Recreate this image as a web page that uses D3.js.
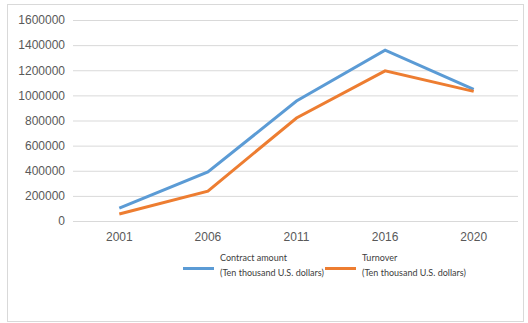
<!DOCTYPE html>
<html>
<head>
<meta charset="utf-8">
<script src="https://cdn.jsdelivr.net/npm/d3@7"></script>
<style>
  body { margin: 0; background: #fff; }
  svg { display: block; font-family: "Open Sans", sans-serif; }
</style>
</head>
<body>
<svg id="chart" width="528" height="323"></svg>
<script>
// data
var years = ["2001", "2006", "2011", "2016", "2020"];
var contractAmount = [103000, 390000, 955000, 1360000, 1048000];
var turnover = [56000, 238000, 820000, 1195000, 1032000];
var yTicks = [0, 200000, 400000, 600000, 800000, 1000000, 1200000, 1400000, 1600000];
var seriesNames = ["Contract amount", "Turnover"];
var seriesUnit = "(Ten thousand U.S. dollars)";
var colors = ["#5b9bd5", "#ed7d31"];

var svg = d3.select("#chart");

// outer frame
svg.append("rect")
	.attr("x", 7.5).attr("y", 4.5)
	.attr("width", 516).attr("height", 317)
	.attr("fill", "#fff").attr("stroke", "#d9d9d9");

var x = d3.scaleBand().domain(years).range([75, 518]);
var y = d3.scaleLinear().domain([0, 1600000]).range([221, 20]);

// gridlines
svg.append("g").selectAll("line")
	.data(yTicks)
	.enter().append("line")
	.attr("x1", 73).attr("x2", 518)
	.attr("y1", function (d) { return y(d) + 0.5; })
	.attr("y2", function (d) { return y(d) + 0.5; })
	.attr("stroke", "#d9d9d9");

// y axis labels
var yAxis = d3.axisLeft(y).tickValues(yTicks).tickSize(0).tickPadding(8)
	.tickFormat(d3.format("d"));
var gy = svg.append("g").attr("transform", "translate(73,0)").call(yAxis);
gy.select(".domain").remove();
gy.selectAll("text").attr("fill", "#595959").style("font-size", "12px");

// x axis labels
var xAxis = d3.axisBottom(x).tickSize(0).tickPadding(11);
var gx = svg.append("g").attr("transform", "translate(0,221)").call(xAxis);
gx.select(".domain").remove();
gx.selectAll("text").attr("fill", "#595959").style("font-size", "12px");

var line = d3.line()
	.x(function (d, i) { return x(years[i]) + x.bandwidth() / 2; })
	.y(function (d) { return y(d); });

[contractAmount, turnover].forEach(function (vals, i) {
	svg.append("path")
		.datum(vals)
		.attr("d", line)
		.attr("fill", "none")
		.attr("stroke", colors[i])
		.attr("stroke-width", 3);
});

// legend
var legendX = [183, 325];
seriesNames.forEach(function (name, i) {
	var g = svg.append("g").attr("transform", "translate(" + legendX[i] + ",0)")
		.style("font-family", "Lato, sans-serif");
	g.append("line")
		.attr("x1", 0).attr("x2", 31)
		.attr("y1", 268.5).attr("y2", 268.5)
		.attr("stroke", colors[i]).attr("stroke-width", 3);
	g.append("text").attr("x", 37).attr("y", 261)
		.attr("fill", "#404040").style("font-size", "9px").text(name);
	g.append("text").attr("x", 37).attr("y", 276)
		.attr("fill", "#404040").style("font-size", "9px").text(seriesUnit);
});
</script>
</body>
</html>
